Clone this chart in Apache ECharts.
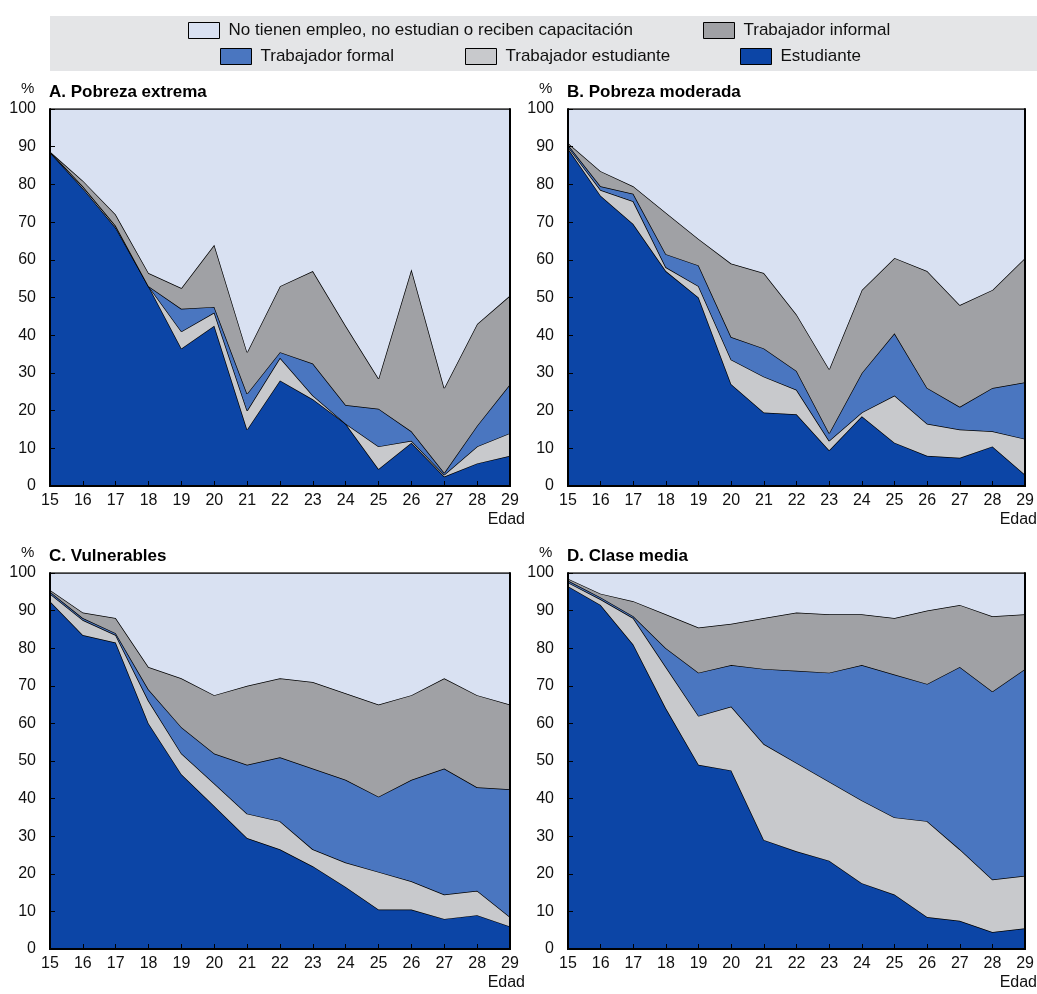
<!DOCTYPE html>
<html><head><meta charset="utf-8">
<script src="https://cdn.jsdelivr.net/npm/echarts@6/dist/echarts.min.js"></script>
<style>html,body{margin:0;padding:0;background:#fff}#c{width:1037px;height:994px}</style>
</head><body><div id="c"></div>
<script>
const ages = ['15','16','17','18','19','20','21','22','23','24','25','26','27','28','29'];
const seriesNames = ['Estudiante','Trabajador estudiante','Trabajador formal','Trabajador informal','No tienen empleo, no estudian o reciben capacitación'];
const panelTitles = ['A. Pobreza extrema','B. Pobreza moderada','C. Vulnerables','D. Clase media'];

// A. Pobreza extrema
const estA   = [88.5,79,68.5,53,36.5,42.5,15,28,23,16.5,4.5,11.5,2.5,6,8];
const trEstA = [0.2,0.5,0.5,0,4.5,3.5,5,6,1,0,6,0.5,0.5,4.5,6];
const formA  = [0,0,0,0,6,1.5,4.5,1.5,8.5,5,10,2.5,0.5,5.5,13];
const infA   = [0,1.5,3,3.5,5.5,16.5,11,17.5,24.5,21,8,43,22.5,27,23.5];
const niniA  = [11.3,19,28,43.5,47.5,36,64.5,47,43,57.5,71.5,42.5,74,57,49.5];

// B. Pobreza moderada
const estB   = [89.5,77,69.5,57,50,27,19.5,19,9.5,18.5,11.5,8,7.5,10.5,3];
const trEstB = [0.5,1.5,6,1,3,6.5,9.5,6.5,2.5,1,12.5,8.5,7.5,4,9.5];
const formB  = [0.5,1,2,3.5,5.5,6,7.5,5,2,10.5,16.5,9.5,6,11.5,15];
const infB   = [0.5,4,2,11,7,19.5,20,15,17,22,20,31,27,26,33];
const niniB  = [9,16.5,20.5,27.5,34.5,41,43.5,54.5,69,48,39.5,43,52,48,39.5];

// C. Vulnerables
const estC   = [92.5,83.5,81.5,60,46.5,38,29.5,26.5,22,16.5,10.5,10.5,8,9,6];
const trEstC = [2,4,2,6,5.5,6,6.5,7.5,4.5,6.5,10,7.5,6.5,6.5,2.5];
const formC  = [0.5,0.5,0.5,3,7,8,13,17,21.5,22,20,27,33.5,27.5,34];
const infC   = [0.5,1.5,4,6,13,15.5,21,21,23,23,24.5,22.5,24,24.5,22.5];
const niniC  = [4.5,10.5,12,25,28,32.5,30,28,29,32,35,32.5,28,32.5,35];

// D. Clase media
const estD   = [96.5,91.5,81,64,49,47.5,29,26,23.5,17.5,14.5,8.5,7.5,4.5,5.5];
const trEstD = [1,1.5,7,11,13,17,25.5,23.5,21,22,20.5,25.5,19,14,14];
const formD  = [0.5,0.5,0.5,5,11.5,11,20,24.5,29,36,38,36.5,48.5,50,55];
const infD   = [0.5,1,4,9,12,11,13.5,15.5,15.5,13.5,15,19.5,16.5,20,14.5];
const niniD  = [1.5,5.5,7.5,11,14.5,13.5,12,10.5,11,11,12,10,8.5,11.5,11];

const panels = [
  [estA,trEstA,formA,infA,niniA],
  [estB,trEstB,formB,infB,niniB],
  [estC,trEstC,formC,infC,niniC],
  [estD,trEstD,formD,infD,niniD]
];
const colors = ['#0c45a6','#c8c9cc','#4a76c0','#a0a1a5','#d9e1f2'];
const FONT = "'Liberation Sans',Arial,sans-serif";

const gridPos = [
  {left:50, top:109, width:460, height:377},
  {left:568, top:109, width:460, height:377},
  {left:50, top:573, width:460, height:376},
  {left:568, top:573, width:460, height:376}
];

const grid=[], xAxis=[], yAxis=[], series=[], titles=[], graphics=[];
gridPos.forEach((g,i)=>{
  grid.push(Object.assign({containLabel:false}, g));
  xAxis.push({type:'category', gridIndex:i, data:ages, boundaryGap:false, z:10,
    axisLine:{lineStyle:{color:'#000',width:2}},
    axisTick:{inside:true,length:5,lineStyle:{color:'#000',width:1}},
    axisLabel:{color:'#111',fontFamily:FONT,fontSize:16,margin:7}, splitLine:{show:false}});
  xAxis.push({type:'category', gridIndex:i, data:ages, boundaryGap:false, position:'top', z:10,
    axisLine:{lineStyle:{color:'#000',width:2}}, axisTick:{show:false}, axisLabel:{show:false}});
  yAxis.push({type:'value', gridIndex:i, min:0, max:100, interval:10, z:10,
    axisLine:{show:true,lineStyle:{color:'#000',width:2}},
    axisTick:{show:true,inside:true,length:5,lineStyle:{color:'#000',width:1}},
    axisLabel:{color:'#111',fontFamily:FONT,fontSize:16,margin:14}, splitLine:{show:false}});
  yAxis.push({type:'value', gridIndex:i, min:0, max:100, interval:10, position:'right', z:10,
    axisLine:{show:true,lineStyle:{color:'#000',width:2}}, axisTick:{show:false}, axisLabel:{show:false}, splitLine:{show:false}});
  panels[i].forEach((d,k)=>{
    series.push({type:'line', name:seriesNames[k], xAxisIndex:2*i, yAxisIndex:2*i, stack:'p'+i,
      data:d, showSymbol:false, symbol:'none', smooth:false,
      lineStyle:{color:'#000',width:1.4}, areaStyle:{color:colors[k],opacity:1},
      itemStyle:{color:colors[k]}, z:2+k});
  });
  titles.push({text:panelTitles[i], left:g.left-1, top:g.top-25, padding:0,
    textStyle:{fontFamily:FONT,fontSize:17,fontWeight:'bold',color:'#000'}});
  graphics.push({type:'text', left:g.left-29, top:g.top-28,
    style:{text:'%', font:'15px '+FONT, fill:'#111'}});
  const edadRight = Math.max(0, 1037-(g.left+g.width+15));
  graphics.push({type:'text', right:edadRight, top:g.top+g.height+26,
    style:{text:'Edad', font:'16px '+FONT, fill:'#111'}});
});

graphics.unshift({type:'rect', shape:{x:50,y:16,width:987,height:55}, style:{fill:'#e4e5e7'}, z:-10});

const legendItems = [
  {name:seriesNames[4], left:188, top:22},
  {name:seriesNames[3], left:703, top:22},
  {name:seriesNames[2], left:220, top:48},
  {name:seriesNames[1], left:465, top:48},
  {name:seriesNames[0], left:740, top:48}
];
const legend = legendItems.map(it=>({
  data:[{name:it.name, icon:'rect', itemStyle:{borderColor:'#000',borderWidth:1}}],
  left:it.left, top:it.top, itemWidth:31, itemHeight:16, itemGap:10, padding:0,
  selectedMode:false,
  textStyle:{fontFamily:FONT,fontSize:17,color:'#111',padding:[0,0,0,4]}
}));

const chart = echarts.init(document.getElementById('c'), null, {renderer:'canvas'});
chart.setOption({
  animation:false, backgroundColor:'#fff',
  title:titles, grid, xAxis, yAxis, series, legend, graphic:graphics
});
</script></body></html>
